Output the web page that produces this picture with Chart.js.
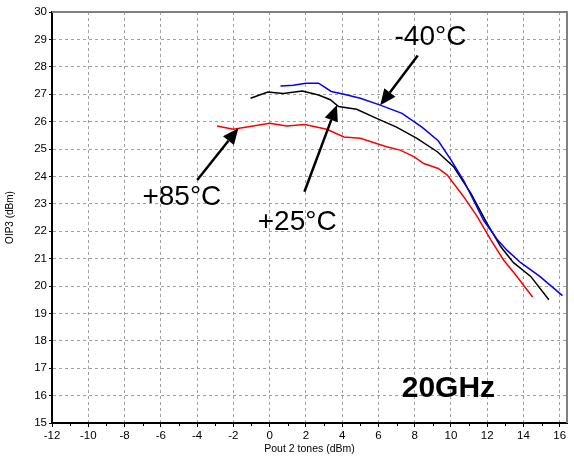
<!DOCTYPE html>
<html>
<head>
<meta charset="utf-8">
<script src="https://cdn.jsdelivr.net/npm/chart.js@4/dist/chart.umd.min.js"></script>
<style>
  html, body { margin: 0; padding: 0; background: #fff; }
  #wrap { width: 574px; height: 457px; }
</style>
</head>
<body>
<div id="wrap"><canvas id="oipChart"></canvas></div>
<script>
// Pout 2 tones (dBm) vs OIP3 (dBm)
const minus40X = [0.6, 1.3, 2.0, 2.7, 3.4, 4.1, 5.0, 6.1, 7.3, 8.4, 9.3, 10.0, 10.7, 11.8, 12.55, 13.1, 13.85, 14.9, 16.15];
const minus40Y = [27.3, 27.33, 27.4, 27.4, 27.1, 27.0, 26.85, 26.6, 26.3, 25.8, 25.3, 24.6, 23.85, 22.4, 21.7, 21.3, 20.85, 20.35, 19.65];

const plus25X = [-1.05, -0.1, 0.75, 1.8, 2.7, 3.35, 3.8, 4.8, 5.9, 7.0, 8.1, 9.25, 10.15, 11.1, 12.0, 12.75, 13.45, 14.4, 15.4];
const plus25Y = [26.85, 27.08, 27.03, 27.12, 26.97, 26.8, 26.55, 26.45, 26.12, 25.8, 25.4, 24.9, 24.35, 23.38, 22.28, 21.43, 20.85, 20.35, 19.5];

const plus85X = [-2.9, -2.0, 0.0, 0.95, 1.95, 3.15, 4.1, 5.0, 6.45, 7.2, 7.95, 8.5, 9.3, 9.8, 10.7, 11.45, 12.2, 12.9, 13.65, 14.5];
const plus85Y = [25.84, 25.72, 25.94, 25.84, 25.89, 25.72, 25.44, 25.39, 25.08, 24.96, 24.72, 24.47, 24.29, 24.05, 23.26, 22.53, 21.68, 20.95, 20.34, 19.6];

const xTitle = 'Pout 2 tones (dBm)';
const yTitle = 'OIP3 (dBm)';
const freqLabel = '20GHz';

const toPoints = (xs, ys) => xs.map((x, i) => ({ x: x, y: ys[i] }));
const FONT = 'Arial, "Liberation Sans", sans-serif';

// callouts in data units: label centre, arrow tail, arrow tip
const callouts = [
    { text: '-40°C', tx: 8.87, ty: 29.09, x0: 8.17, y0: 28.41, x1: 6.1, y1: 26.6 },
    { text: '+25°C', tx: 1.52, ty: 22.34, x0: 1.92, y0: 23.44, x1: 3.71, y1: 26.61 },
    { text: '+85°C', tx: -4.84, ty: 23.25, x0: -3.99, y0: 23.87, x1: -1.72, y1: 25.76 }
];

const decorPlugin = {
    id: 'decor',
    beforeDatasetsDraw(chart) {
        const { ctx, chartArea: a, scales: { x } } = chart;
        ctx.save();
        // grey top / right frame
        ctx.strokeStyle = '#808080';
        ctx.lineWidth = 2;
        ctx.beginPath();
        ctx.moveTo(a.left, a.top);
        ctx.lineTo(a.right, a.top);
        ctx.lineTo(a.right, a.bottom);
        ctx.stroke();
        // minor ticks on x axis
        ctx.strokeStyle = '#000';
        ctx.lineWidth = 1;
        for (let v = -11; v <= 16; v += 2) {
            const px = Math.round(x.getPixelForValue(v)) + 0.5;
            ctx.beginPath();
            ctx.moveTo(px, a.bottom);
            ctx.lineTo(px, a.bottom + 3);
            ctx.stroke();
        }
        ctx.restore();
    },
    afterDatasetsDraw(chart) {
        const { ctx, scales: { x, y } } = chart;
        ctx.save();
        ctx.fillStyle = '#000';
        ctx.strokeStyle = '#000';
        ctx.textAlign = 'center';
        ctx.textBaseline = 'middle';
        ctx.font = '28px ' + FONT;
        callouts.forEach(c => {
            ctx.fillText(c.text, x.getPixelForValue(c.tx), y.getPixelForValue(c.ty));
            const ax = x.getPixelForValue(c.x0), ay = y.getPixelForValue(c.y0);
            const bx = x.getPixelForValue(c.x1), by = y.getPixelForValue(c.y1);
            const ang = Math.atan2(by - ay, bx - ax);
            const head = 16, half = 7;
            const hx = bx - head * Math.cos(ang), hy = by - head * Math.sin(ang);
            ctx.lineWidth = 2.5;
            ctx.beginPath();
            ctx.moveTo(ax, ay);
            ctx.lineTo(hx, hy);
            ctx.stroke();
            ctx.beginPath();
            ctx.moveTo(bx, by);
            ctx.lineTo(hx + half * Math.sin(ang), hy - half * Math.cos(ang));
            ctx.lineTo(hx - half * Math.sin(ang), hy + half * Math.cos(ang));
            ctx.closePath();
            ctx.fill();
        });
        ctx.font = 'bold 30px ' + FONT;
        ctx.fillText(freqLabel, x.getPixelForValue(9.86), y.getPixelForValue(16.24));
        ctx.restore();
    }
};

const ctx = document.getElementById('oipChart').getContext('2d');
const oipChart = new Chart(ctx, {
    type: 'scatter',
    data: {
        datasets: [{
            label: '-40°C',
            data: toPoints(minus40X, minus40Y),
            borderColor: '#0000ff',
            showLine: true,
            borderWidth: 1.5,
            pointRadius: 0,
            tension: 0
        },
        {
            label: '+25°C',
            data: toPoints(plus25X, plus25Y),
            borderColor: '#000000',
            showLine: true,
            borderWidth: 1.5,
            pointRadius: 0,
            tension: 0
        },
        {
            label: '+85°C',
            data: toPoints(plus85X, plus85Y),
            borderColor: '#ff0000',
            showLine: true,
            borderWidth: 1.5,
            pointRadius: 0,
            tension: 0
        }]
    },
    options: {
        responsive: true,
        maintainAspectRatio: false,
        animation: false,
        layout: { padding: { top: 12, right: 7, left: 0, bottom: 0 } },
        plugins: {
            legend: { display: false },
            tooltip: { enabled: false }
        },
        scales: {
            x: {
                type: 'linear',
                min: -12,
                max: 16.4,
                afterFit(scale) { scale.height = 34; },
                ticks: {
                    stepSize: 2,
                    includeBounds: false,
                    color: '#000',
                    font: { family: FONT, size: 11.5 },
                    padding: 2,
                    maxRotation: 0
                },
                grid: {
                    color: '#a0a0a0',
                    tickLength: 4,
                    tickColor: '#000',
                    tickBorderDash: [0, 0]
                },
                border: { display: true, color: '#000', width: 2, dash: [3, 3] },
                title: {
                    display: true,
                    text: xTitle,
                    color: '#000',
                    font: { family: FONT, size: 10.5 },
                    padding: { top: 0, bottom: 2 }
                }
            },
            y: {
                min: 15,
                max: 30,
                afterFit(scale) { scale.width = 52; },
                ticks: {
                    stepSize: 1,
                    color: '#000',
                    font: { family: FONT, size: 11.5 },
                    padding: 2
                },
                grid: {
                    color: '#a0a0a0',
                    tickLength: 3,
                    tickColor: '#000',
                    tickBorderDash: [0, 0]
                },
                border: { display: true, color: '#000', width: 2, dash: [3, 3] },
                title: {
                    display: true,
                    text: yTitle,
                    color: '#000',
                    font: { family: FONT, size: 10 },
                    padding: { top: 4, bottom: 2 }
                }
            }
        }
    },
    plugins: [decorPlugin]
});
</script>
</body>
</html>
